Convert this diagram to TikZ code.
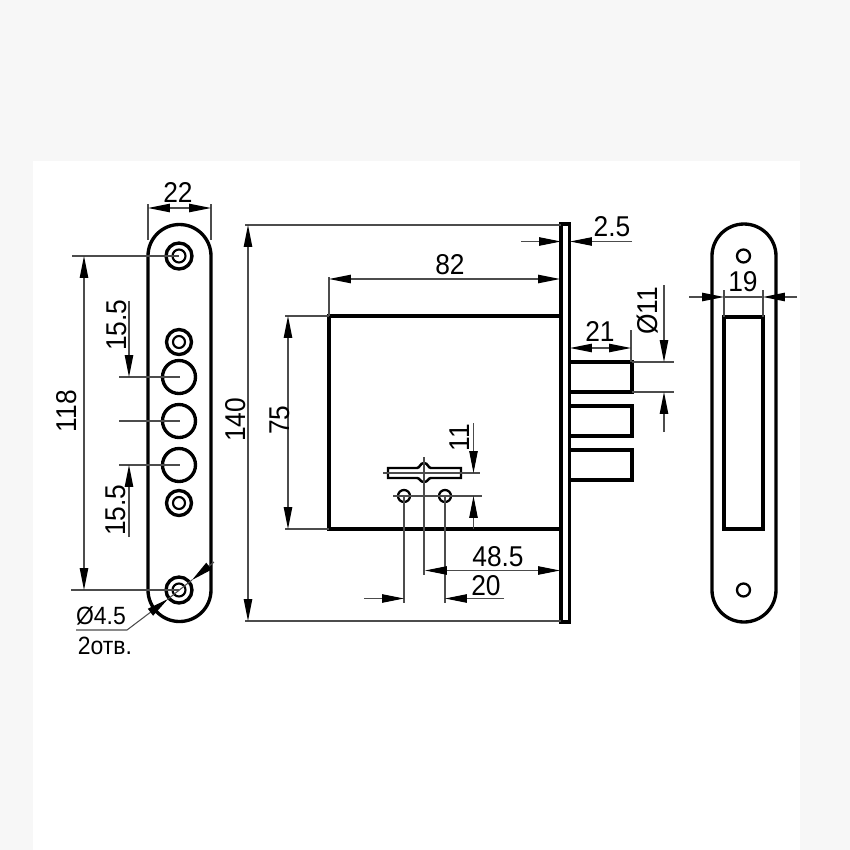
\documentclass[tikz,border=0pt]{standalone}
\usepackage{fontspec}
\setmainfont{Liberation Sans}[FakeStretch=0.92]
\usetikzlibrary{arrows.meta}

\begin{document}
\begin{tikzpicture}[x=0.02cm, y=-0.02cm]
	\tikzstyle{Outline} = [line width=1.9pt, black]
	\tikzstyle{Dim}     = [line width=0.6pt, black!70, >={Triangle[length=12.5pt, width=4.8pt, color=black]}]
	\tikzstyle{Label}   = [inner sep=0pt, black, font=\fontsize{16.3}{17}\selectfont]
	\tikzstyle{Upright} = [Label, rotate=90]
	\tikzstyle{Note}    = [inner sep=0pt, black, font=\fontsize{14.2}{15}\selectfont]

	% sheet
	\fill[black!3] (0, 0) rectangle (850, 850);
	\fill[white] (33, 161) rectangle (800, 850);

	% left face plate
	\draw[Outline] (148, 256) arc (180:360:31.5) -- (211, 590) arc (0:180:31.5) -- cycle;
	\draw[Outline] (179, 256) circle [radius=13];
	\draw[Outline, line width=1.2pt] (179, 256) circle [radius=6.5];
	\draw[Outline] (179, 342) circle [radius=12.5];
	\draw[Outline, line width=1.2pt] (179, 342) circle [radius=6];
	\draw[Outline] (179, 377) circle [radius=16.5];
	\draw[Outline] (179, 421) circle [radius=16.5];
	\draw[Outline] (179, 465) circle [radius=16.5];
	\draw[Outline] (179, 503) circle [radius=12.5];
	\draw[Outline, line width=1.2pt] (179, 503) circle [radius=6];
	\draw[Outline] (179, 590) circle [radius=13];
	\draw[Outline, line width=1.2pt] (179, 590) circle [radius=6.5];

	% lock body, front plate, bolts
	\draw[Outline] (329, 316) rectangle (561, 529);
	\draw[Outline, fill=white] (561, 224) rectangle (569.5, 622);
	\draw[Outline] (570, 362) -- (632, 362) -- (632, 392) -- (570, 392);
	\draw[Outline] (570, 406) -- (632, 406) -- (632, 436) -- (570, 436);
	\draw[Outline] (570, 450) -- (632, 450) -- (632, 480) -- (570, 480);

	% keyhole and screws
	\draw[Outline, line width=1.4pt] (388, 468) -- (417, 468) .. controls (420, 468) and (420, 463) .. (424, 463) .. controls (428, 463) and (428, 468) .. (431, 468) -- (461, 468) -- (461, 478) -- (431, 478) .. controls (428, 478) and (428, 482) .. (424, 482) .. controls (420, 482) and (420, 478) .. (417, 478) -- (388, 478) -- cycle;
	\draw[Outline, line width=1.3pt] (404, 496) circle [radius=6];
	\draw[Outline, line width=1.3pt] (445, 496) circle [radius=6];

	% right strike plate
	\draw[Outline] (712, 256) arc (180:360:32) -- (776, 590) arc (0:180:32) -- cycle;
	\draw[Outline] (724, 317) rectangle (763, 529);
	\draw[Outline, line width=1.3pt] (743.5, 256) circle [radius=6.5];
	\draw[Outline, line width=1.3pt] (743.5, 590) circle [radius=6.5];

	% witness lines
	\draw[Dim] (148, 204) -- (148, 240);
	\draw[Dim] (211, 204) -- (211, 240);
	\draw[Dim] (72, 256) -- (179, 256);
	\draw[Dim] (71, 590) -- (179, 590);
	\draw[Dim] (119, 377) -- (180, 377);
	\draw[Dim] (119, 421) -- (180, 421);
	\draw[Dim] (119, 465) -- (180, 465);
	\draw[Dim] (245, 225) -- (561, 225);
	\draw[Dim] (245, 621) -- (561, 621);
	\draw[Dim] (285, 316) -- (329, 316);
	\draw[Dim] (285, 529) -- (329, 529);
	\draw[Dim] (329, 277) -- (329, 316);
	\draw[Dim] (631, 330) -- (631, 362);
	\draw[Dim] (632, 362) -- (674, 362);
	\draw[Dim] (632, 392) -- (674, 392);
	\draw[Dim] (383, 473) -- (480, 473);
	\draw[Dim] (393, 496) -- (482, 496);
	\draw[Dim] (424, 457) -- (424, 575);
	\draw[Dim] (404, 496) -- (404, 603);
	\draw[Dim] (445, 496) -- (445, 603);
	\draw[Dim] (724, 290) -- (724, 317);
	\draw[Dim] (763, 290) -- (763, 317);
	\draw[Dim] (724, 297) -- (763, 297);
	\draw[Dim] (168, 599) -- (192, 580);

	% dimension lines
	\draw[Dim, <->] (148, 208) -- (211, 208);
	\draw[Dim, <->] (84, 256) -- (84, 590);
	\draw[Dim, ->] (129, 301) -- (129, 377);
	\draw[Dim, ->] (129, 537) -- (129, 465);
	\draw[Dim, <->] (248, 225) -- (248, 621);
	\draw[Dim, <->] (288, 316) -- (288, 529);
	\draw[Dim, <->] (329, 279) -- (560, 279);
	\draw[Dim, ->] (521, 241.5) -- (561, 241.5);
	\draw[Dim, ->] (632, 241.5) -- (570, 241.5);
	\draw[Dim, <->] (570, 348) -- (631, 348);
	\draw[Dim, ->] (664, 285) -- (664, 362);
	\draw[Dim, ->] (664, 432) -- (664, 392);
	\draw[Dim, ->] (473.5, 423) -- (473.5, 473);
	\draw[Dim, ->] (473.5, 529) -- (473.5, 496);
	\draw[Dim, <->] (425, 570.5) -- (560, 570.5);
	\draw[Dim, ->] (364, 598.5) -- (404, 598.5);
	\draw[Dim, ->] (504, 598.5) -- (445, 598.5);
	\draw[Dim, ->] (689, 297) -- (724, 297);
	\draw[Dim, ->] (797, 297) -- (763, 297);

	% hole callout
	\draw[Dim, ->] (214, 562) -- (192, 580);
	\draw[Dim, ->] (76, 630) -- (127, 630) -- (168, 599);

	% labels
	\node (t22) at (178, 192) [Label] {22};
	\node (t118) at (67, 411) [Upright] {118};
	\node (t155a) at (117, 325) [Upright] {15.5};
	\node (t155b) at (116, 510) [Upright] {15.5};
	\node (t140) at (236, 420) [Upright] {140};
	\node (t75) at (280, 420) [Upright] {75};
	\node (t82) at (450, 265) [Label] {82};
	\node (t25) at (612, 227) [Label] {2.5};
	\node (t21) at (600, 331) [Label] {21};
	\node (tD11) at (648, 311) [Upright] {Ø11};
	\node (t11) at (460, 438) [Upright] {11};
	\node (t485) at (498, 557) [Label] {48.5};
	\node (t20) at (486, 586) [Label] {20};
	\node (t19) at (743, 282) [Label] {19};
	\node (tD45) at (101, 616) [Note] {Ø4.5};
	\node (t2otv) at (105, 646) [Note] {2отв.};
\end{tikzpicture}
\end{document}
